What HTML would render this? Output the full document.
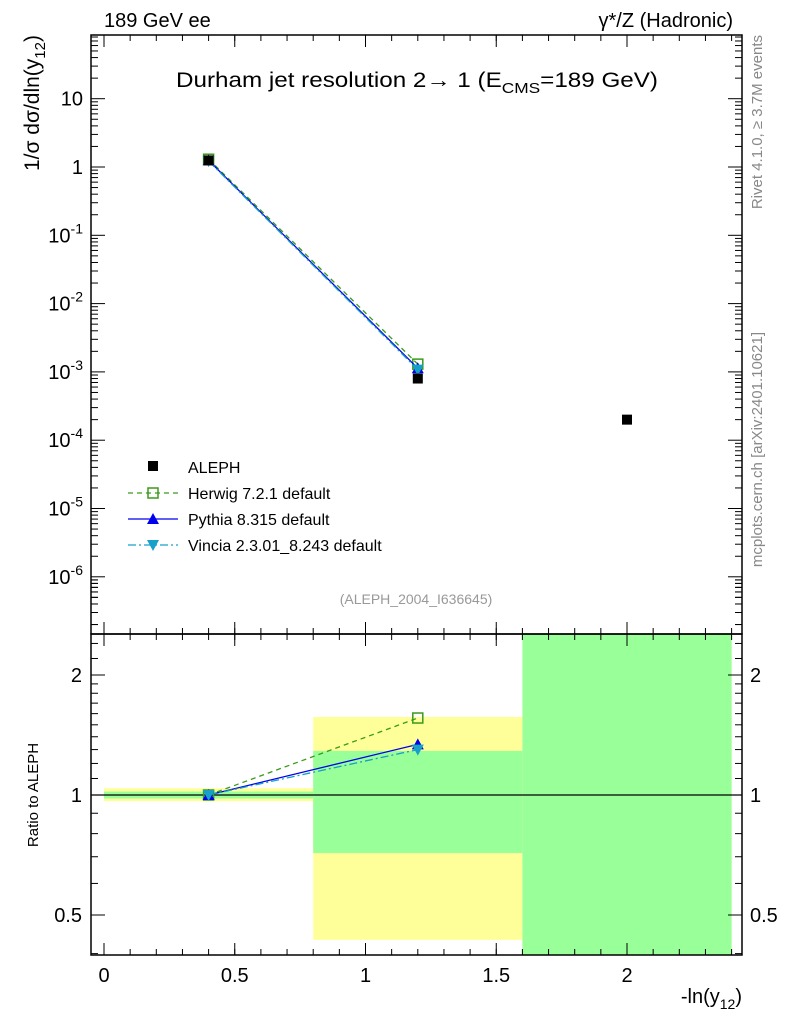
<!DOCTYPE html>
<html><head><meta charset="utf-8"><style>
body{margin:0;background:#fff;}
svg{display:block;font-family:"Liberation Sans",sans-serif;}
</style></head><body>
<svg id="c" width="786" height="1024"></svg>
<script>
const xCenters=[0.4,1.2,2.0];
const binEdges=[0,0.8,1.6,2.4];
const alephVals=[1.25,8e-4,2e-4];
const herwigVals=[1.3,1.3e-3];
const pythiaVals=[1.25,1.13e-3];
const vinciaVals=[1.22,1.08e-3];
const herwigRatio=[1.0,1.56];
const pythiaRatio=[1.0,1.34];
const vinciaRatio=[1.0,1.30];
const yellowLo=[0.965,0.433,0.3];const yellowHi=[1.04,1.57,3];
const greenLo=[0.98,0.715,0.3];const greenHi=[1.02,1.29,3];
const xTicks=[0,0.5,1,1.5,2];
const xTickLabels=["0","0.5","1","1.5","2"];
const yTicks=[1,0,-1,-2,-3,-4,-5,-6];
const rTicks=[0.5,1,2];

const NS="http://www.w3.org/2000/svg";
const svg=document.getElementById('c');
const L=91,R=742,T=35,M=634,B=955;
const X=v=>104+(v)*261.5;
const Y=v=>167-Math.log10(v)*68.3;
const RY=v=>795-Math.log10(v)*398.6;
function el(t,a,p){const e=document.createElementNS(NS,t);for(const k in a)e.setAttribute(k,a[k]);(p||svg).appendChild(e);return e;}
function txt(x,y,s,a,p){const e=el('text',Object.assign({x:x,y:y},a||{}),p);e.innerHTML=s;return e;}

const clipR=el('clipPath',{id:'cr'});el('rect',{x:L,y:M,width:R-L,height:B-M},clipR);
const bands=el('g',{'clip-path':'url(#cr)'});

for(let i=0;i<3;i++){
 const r1=el('rect',{x:X(binEdges[i]),y:RY(yellowHi[i]),width:X(binEdges[i+1])-X(binEdges[i]),height:RY(yellowLo[i])-RY(yellowHi[i]),fill:'#ffff99'},bands);
 
 const r2=el('rect',{x:X(binEdges[i]),y:RY(greenHi[i]),width:X(binEdges[i+1])-X(binEdges[i]),height:RY(greenLo[i])-RY(greenHi[i]),fill:'#99ff99'},bands);
 
}
el('line',{x1:L,x2:R,y1:RY(1),y2:RY(1),stroke:'#000','stroke-width':1.2});

el('rect',{x:L,y:T,width:R-L,height:M-T,fill:'none',stroke:'#000','stroke-width':1.5});
el('rect',{x:L,y:M,width:R-L,height:B-M,fill:'none',stroke:'#000','stroke-width':1.5});

for(let i=0;i<xTicks.length;i++){
 const x=X(xTicks[i]);
 el('line',{x1:x,x2:x,y1:M,y2:M-12,stroke:'#000'});
 el('line',{x1:x,x2:x,y1:T,y2:T+12,stroke:'#000'});
 el('line',{x1:x,x2:x,y1:B,y2:B-12,stroke:'#000'});
 el('line',{x1:x,x2:x,y1:M,y2:M+12,stroke:'#000'});
 const t=txt(x,982,xTickLabels[i],{'font-size':20,'text-anchor':'middle'});
 
}
for(let k=0;k<25;k++){const x=X(k*0.1);
 el('line',{x1:x,x2:x,y1:B,y2:B-6,stroke:'#000'});el('line',{x1:x,x2:x,y1:M,y2:M-6,stroke:'#000'});el('line',{x1:x,x2:x,y1:T,y2:T+6,stroke:'#000'});el('line',{x1:x,x2:x,y1:M,y2:M+6,stroke:'#000'});}
for(const e of yTicks){const y=Y(Math.pow(10,e));
 el('line',{x1:L,x2:L+14,y1:y,y2:y,stroke:'#000'});el('line',{x1:R,x2:R-14,y1:y,y2:y,stroke:'#000'});
 const s=e==1?'10':e==0?'1':'10<tspan dy="-9" font-size="14">'+e+'</tspan>';
 const t=txt(83,y+7,s,{'font-size':20,'text-anchor':'end'});
 
 for(let k=2;k<10;k++){const yy=Y(k*Math.pow(10,e-1));if(yy>T&&yy<M){el('line',{x1:L,x2:L+7,y1:yy,y2:yy,stroke:'#000'});el('line',{x1:R,x2:R-7,y1:yy,y2:yy,stroke:'#000'});}}
}
for(let k=2;k<10;k++){const yy=Y(k*10);if(yy>T){el('line',{x1:L,x2:L+7,y1:yy,y2:yy,stroke:'#000'});el('line',{x1:R,x2:R-7,y1:yy,y2:yy,stroke:'#000'});}}
for(let k=2;k<10;k++){const yy=Y(k*1e-7);if(yy<M){el('line',{x1:L,x2:L+7,y1:yy,y2:yy,stroke:'#000'});el('line',{x1:R,x2:R-7,y1:yy,y2:yy,stroke:'#000'});}}
for(const v of rTicks){const y=RY(v);el('line',{x1:L,x2:L+14,y1:y,y2:y,stroke:'#000'});el('line',{x1:R,x2:R-14,y1:y,y2:y,stroke:'#000'});
 const t=txt(82,y+7,String(v),{'font-size':20,'text-anchor':'end'});
 const t2=txt(750,y+7,String(v),{'font-size':20});}
for(const v of [0.4,0.6,0.7,0.8,0.9,1.1,1.2,1.3,1.4,1.5,1.6,1.7,1.8,1.9,2.2,2.4]){const y=RY(v);if(y>M&&y<B){el('line',{x1:L,x2:L+7,y1:y,y2:y,stroke:'#000'});el('line',{x1:R,x2:R-7,y1:y,y2:y,stroke:'#000'});}}

function marker(type,x,y,col,g){
 if(type=='sq'){el('rect',{x:x-5,y:y-5,width:10,height:10,fill:'none',stroke:col,'stroke-width':1.5},g);}
 else if(type=='fsq'){el('rect',{x:x-5,y:y-5,width:10,height:10,fill:col},g);}
 else if(type=='up'){el('polygon',{points:`${x},${y-6} ${x-6},${y+5} ${x+6},${y+5}`,fill:col},g);}
 else {el('polygon',{points:`${x},${y+6} ${x-6},${y-5} ${x+6},${y-5}`,fill:col},g);}
}
const series=[
 {n:'herwig',v:herwigVals,r:herwigRatio,c:'#3a9a1a',d:'5,4',m:'sq'},
 {n:'pythia',v:pythiaVals,r:pythiaRatio,c:'#0000ee',d:'',m:'up'},
 {n:'vincia',v:vinciaVals,r:vinciaRatio,c:'#17a0c8',d:'8,3,2,3',m:'dn'}];
for(const s of series){
 const g=el('g',{});
 const pts=s.v.map((v,i)=>X(xCenters[i])+','+Y(v)).join(' ');
 el('polyline',{points:pts,fill:'none',stroke:s.c,'stroke-width':1.3,'stroke-dasharray':s.d},g);
 s.v.forEach((v,i)=>marker(s.m,X(xCenters[i]),Y(v),s.c,g));
 const g2=el('g',{});
 el('polyline',{points:s.r.map((v,i)=>X(xCenters[i])+','+RY(v)).join(' '),fill:'none',stroke:s.c,'stroke-width':1.3,'stroke-dasharray':s.d},g2);
 s.r.forEach((v,i)=>marker(s.m,X(xCenters[i]),RY(v),s.c,g2));
}
const ga=el('g',{});
alephVals.forEach((v,i)=>marker('fsq',X(xCenters[i]),Y(v),'#000',ga));

const lg=el('g',{});
marker('fsq',153,466,'#000',lg);txt(188,473,'ALEPH',{'font-size':16},lg);
const leg=[['Herwig 7.2.1 default',493,0],['Pythia 8.315 default',519,1],['Vincia 2.3.01_8.243 default',545,2]];
for(const [n,y,i] of leg){const s=series[i];el('line',{x1:128,x2:178,y1:y,y2:y,stroke:s.c,'stroke-width':1.3,'stroke-dasharray':s.d},lg);marker(s.m,153,y,s.c,lg);txt(188,y+6,n,{'font-size':16},lg);}

let t;
t=txt(104,27,'189 GeV ee',{'font-size':20});
t=txt(733,27,'γ*/Z (Hadronic)',{'font-size':20,'text-anchor':'end'});
t=txt(417,87,'Durham jet resolution 2→  1 (E<tspan dy="6" font-size="15">CMS</tspan><tspan dy="-6">=189 GeV)</tspan>',{'font-size':21,'text-anchor':'middle',textLength:482,lengthAdjust:'spacingAndGlyphs'});
t=txt(416,604,'(ALEPH_2004_I636645)',{'font-size':14,fill:'#999','text-anchor':'middle'});
t=txt(0,0,'1/σ  dσ/dln(y<tspan dy="6" font-size="15">12</tspan><tspan dy="-6">)</tspan>',{'font-size':21,'text-anchor':'end',transform:'translate(39,35) rotate(-90)'});
t=txt(0,0,'Ratio to ALEPH',{'font-size':15,'text-anchor':'middle',transform:'translate(38,795) rotate(-90)'});
t=txt(742,1003,'-ln(y<tspan dy="6" font-size="14">12</tspan><tspan dy="-6">)</tspan>',{'font-size':20,'text-anchor':'end'});
t=txt(0,0,'Rivet 4.1.0, ≥ 3.7M events',{'font-size':15,fill:'#888','text-anchor':'end',transform:'translate(762,35) rotate(-90)'});
t=txt(0,0,'mcplots.cern.ch [arXiv:2401.10621]',{'font-size':15,fill:'#888','text-anchor':'end',transform:'translate(762,332) rotate(-90)'});
</script>
</body></html>
